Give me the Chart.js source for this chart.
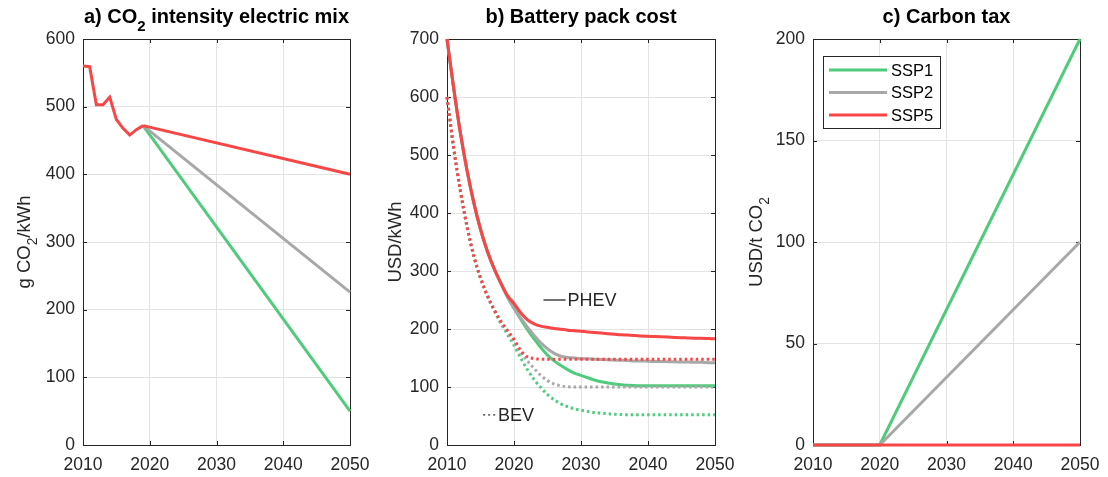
<!DOCTYPE html>
<html>
<head>
<meta charset="utf-8">
<script src="https://cdn.jsdelivr.net/npm/chart.js@4.4.1/dist/chart.umd.min.js"></script>
<style>
  html, body { margin: 0; padding: 0; background: #fff; }
  #wrap { position: relative; width: 1108px; height: 477px; overflow: hidden; }
  #wrap canvas { position: absolute; top: 0; }
</style>
</head>
<body>
<div id="wrap">
  <canvas id="chartA" width="370" height="477" style="left:0px;width:370px;height:477px"></canvas>
  <canvas id="chartB" width="370" height="477" style="left:370px;width:370px;height:477px"></canvas>
  <canvas id="chartC" width="368" height="477" style="left:740px;width:368px;height:477px"></canvas>
</div>
<script>
// ---- data ----------------------------------------------------------------
const scenarios = ['SSP1', 'SSP2', 'SSP5'];
const xTicks = [2010, 2020, 2030, 2040, 2050];

// a) CO2 intensity of electricity mix (g CO2/kWh)
const histYears = [2010, 2011, 2012, 2013, 2014, 2015, 2016, 2017, 2018, 2019];
const histIntensity = [560, 559, 503, 503, 514, 481, 468, 458, 466, 472];
const projYears = [2019, 2050];
const intensitySSP1 = [472, 50];
const intensitySSP2 = [472, 226];
const intensitySSP5 = [472, 400];
const yTicksA = [0, 100, 200, 300, 400, 500, 600];

// b) Battery pack cost (USD/kWh)
const costYears = [2010, 2011, 2012, 2013, 2014, 2015, 2016, 2017, 2018, 2019,
                   2020, 2021, 2022, 2023, 2024, 2025, 2026, 2027, 2028, 2029,
                   2030, 2031, 2032, 2033, 2034, 2035, 2036, 2037, 2038, 2039,
                   2040, 2041, 2042, 2043, 2044, 2045, 2046, 2047, 2048, 2049, 2050];
const phevSSP1 = [700, 615, 538, 473, 418, 372, 335, 305, 280, 256,
                  236, 217, 199, 183, 168, 155, 145, 137, 130, 124,
                  120, 116, 112, 109, 107, 105, 104, 103, 102.5, 102,
                  102, 102, 102, 102, 102, 102, 102, 102, 102, 102, 102];
const phevSSP2 = [700, 615, 538, 473, 418, 372, 335, 305, 280, 256,
                  236, 219, 203, 189, 176, 166, 158, 153, 151, 150,
                  149, 148.5, 148, 147.5, 147, 146.5, 146, 145.5, 145, 145,
                  144.5, 144, 144, 143.5, 143.5, 143, 143, 142.5, 142.5, 142, 142];
const phevSSP5 = [700, 615, 538, 473, 418, 372, 335, 305, 280, 258,
                  244, 228, 216, 209, 205, 203, 201, 199.5, 198, 197,
                  196, 195, 194, 193, 192, 191, 190, 189.5, 189, 188,
                  187.5, 187, 186.5, 186, 185.5, 185, 184.5, 184, 184, 183.5, 183];
const bevSSP1 = [600, 512, 438, 376, 326, 288, 258, 233, 210, 191,
                 172, 150, 130, 113, 99, 87, 78, 71, 66, 62.5,
                 60, 58, 56, 55, 54, 53, 52.5, 52, 52, 52,
                 52, 52, 52, 52, 52, 52, 52, 52, 52, 52, 52];
const bevSSP2 = [600, 512, 438, 376, 326, 288, 258, 234, 212, 195,
                 178, 160, 145, 132, 120, 111, 105, 102, 100.5, 100,
                 100, 100, 100, 100, 100, 100, 100, 100, 100, 100,
                 100, 100, 100, 100, 100, 100, 100, 100, 100, 100, 100];
const bevSSP5 = [600, 512, 438, 376, 326, 288, 258, 234, 214, 198,
                 182, 163, 152, 149, 148, 148, 148, 148, 148, 148,
                 148, 148, 148, 148, 148, 148, 148, 148, 148, 148,
                 148, 148, 148, 148, 148, 148, 148, 148, 148, 148, 148];
const yTicksB = [0, 100, 200, 300, 400, 500, 600, 700];

// c) Carbon tax (USD/t CO2)
const taxYears = [2010, 2020, 2050];
const taxSSP1 = [0, 0, 200];
const taxSSP2 = [0, 0, 100];
const taxSSP5 = [0, 0, 0];
const yTicksC = [0, 50, 100, 150, 200];

// ---- style ---------------------------------------------------------------
const FONT = "'Liberation Sans', Arial, Helvetica, sans-serif";
const INK = '#262626';
const COLORS = { SSP1: '#4fcb7b', SSP2: '#a8a8a8', SSP5: '#f64646' };
const GRID = '#e3e3e3';

const pts = (xs, ys) => xs.map((x, i) => ({ x: x, y: ys[i] }));

// writes a run of text pieces, some of them subscripts
function richWidth(ctx, parts, size) {
  let w = 0;
  parts.forEach(p => {
    ctx.font = p.bold + ' ' + (p.sub ? size * 0.75 : size) + 'px ' + FONT;
    w += ctx.measureText(p.t).width;
  });
  return w;
}
function drawRich(ctx, parts, x, y, size) {
  let cx = x;
  parts.forEach(p => {
    ctx.font = p.bold + ' ' + (p.sub ? size * 0.75 : size) + 'px ' + FONT;
    ctx.fillText(p.t, cx, p.sub ? y + size * 0.38 : y);
    cx += ctx.measureText(p.t).width;
  });
}

// axes frame with inward tick marks, drawn under the data
const framePlugin = {
  id: 'frame',
  beforeDatasetsDraw(chart) {
    const { ctx, chartArea: a, scales } = chart;
    ctx.save();
    ctx.strokeStyle = INK;
    ctx.lineWidth = 1;
    ctx.strokeRect(a.left + 0.5, a.top + 0.5, a.right - a.left, a.bottom - a.top);
    const len = 4;
    ctx.beginPath();
    scales.x.ticks.forEach(t => {
      const px = Math.round(scales.x.getPixelForValue(t.value)) + 0.5;
      ctx.moveTo(px, a.bottom); ctx.lineTo(px, a.bottom - len);
      ctx.moveTo(px, a.top); ctx.lineTo(px, a.top + len);
    });
    scales.y.ticks.forEach(t => {
      const py = Math.round(scales.y.getPixelForValue(t.value)) + 0.5;
      ctx.moveTo(a.left, py); ctx.lineTo(a.left + len, py);
      ctx.moveTo(a.right, py); ctx.lineTo(a.right - len, py);
    });
    ctx.stroke();
    ctx.restore();
  }
};

// panel title and y-axis label (both can carry a subscript)
const labelsPlugin = {
  id: 'labels',
  afterDraw(chart, args, opts) {
    const { ctx, chartArea: a } = chart;
    ctx.save();
    ctx.fillStyle = '#000';
    ctx.textBaseline = 'alphabetic';
    ctx.textAlign = 'left';
    const tParts = opts.title.map(p => ({ t: p.t, sub: p.sub, bold: 'bold' }));
    const tw = richWidth(ctx, tParts, 20);
    drawRich(ctx, tParts, (a.left + a.right) / 2 - tw / 2, 23, 20);

    ctx.fillStyle = INK;
    const yParts = opts.yLabel.map(p => ({ t: p.t, sub: p.sub, bold: 'normal' }));
    const yw = richWidth(ctx, yParts, 18.5);
    ctx.translate(a.left - opts.yLabelGap, (a.top + a.bottom) / 2);
    ctx.rotate(-Math.PI / 2);
    drawRich(ctx, yParts, -yw / 2, 0, 18.5);
    ctx.restore();
  }
};

// in-plot notes for panel b: line style keys
const notesPlugin = {
  id: 'notes',
  afterDatasetsDraw(chart, args, opts) {
    if (!opts.items) return;
    const { ctx, scales } = chart;
    ctx.save();
    opts.items.forEach(n => {
      const x0 = scales.x.getPixelForValue(n.x0);
      const x1 = scales.x.getPixelForValue(n.x1);
      const y = scales.y.getPixelForValue(n.y);
      ctx.strokeStyle = INK;
      ctx.lineWidth = 1.3;
      ctx.setLineDash(n.dash);
      ctx.beginPath(); ctx.moveTo(x0, y); ctx.lineTo(x1, y); ctx.stroke();
      ctx.setLineDash([]);
      ctx.fillStyle = INK;
      ctx.font = '18px ' + FONT;
      ctx.textBaseline = 'middle';
      ctx.fillText(n.text, x1 + 2, y + 1);
    });
    ctx.restore();
  }
};

// boxed legend in the upper left of panel c
const boxLegendPlugin = {
  id: 'boxLegend',
  afterDatasetsDraw(chart, args, opts) {
    if (!opts.show) return;
    const { ctx, chartArea: a } = chart;
    const left = a.left + 10, top = a.top + 17, w = 117, h = 72;
    ctx.save();
    ctx.fillStyle = '#fff';
    ctx.fillRect(left, top, w, h);
    ctx.strokeStyle = INK;
    ctx.lineWidth = 1;
    ctx.strokeRect(left + 0.5, top + 0.5, w, h);
    const rows = chart.data.datasets.filter(d => d.label).sort((p, q) => p.label < q.label ? -1 : 1);
    rows.forEach((d, i) => {
      const y = top + 14 + i * 22.5;
      ctx.strokeStyle = d.borderColor;
      ctx.lineWidth = 3;
      ctx.beginPath(); ctx.moveTo(left + 6, y); ctx.lineTo(left + 64, y); ctx.stroke();
      ctx.fillStyle = '#000';
      ctx.font = '16.5px ' + FONT;
      ctx.textBaseline = 'middle';
      ctx.fillText(d.label, left + 68, y + 1);
    });
    ctx.restore();
  }
};

function line(data, color, opts) {
  return Object.assign({
    data: data,
    borderColor: color,
    backgroundColor: color,
    borderWidth: 3,
    pointRadius: 0,
    fill: false,
    tension: 0,
    clip: false
  }, opts || {});
}

// smooth cost curves
const curve = (data, color, dashed) => line(data, color, {
  cubicInterpolationMode: 'monotone',
  borderDash: dashed ? [2.5, 3] : []
});

function makePanel(id, cfg) {
  const tickFont = { family: FONT, size: 17.5 };
  return new Chart(document.getElementById(id), {
    type: 'line',
    data: { datasets: cfg.datasets },
    options: {
      responsive: false,
      animation: false,
      events: [],
      layout: { padding: { top: 39, right: cfg.padRight, left: 0, bottom: 0 } },
      scales: {
        x: {
          type: 'linear', min: 2010, max: 2050,
          afterBuildTicks: s => { s.ticks = xTicks.map(v => ({ value: v })); },
          afterFit: s => { s.height = 32; s.paddingLeft = 0; s.paddingRight = 0; },
          grid: { color: GRID, drawTicks: false },
          border: { display: false },
          ticks: { color: INK, font: tickFont, padding: 10, maxRotation: 0, callback: v => String(v) }
        },
        y: {
          type: 'linear', min: cfg.yTicks[0], max: cfg.yTicks[cfg.yTicks.length - 1],
          afterBuildTicks: s => { s.ticks = cfg.yTicks.map(v => ({ value: v })); },
          afterFit: s => { s.width = cfg.yWidth; s.paddingTop = 0; s.paddingBottom = 0; },
          grid: { color: GRID, drawTicks: false },
          border: { display: false },
          ticks: { color: INK, font: tickFont, padding: 8, callback: v => String(v) }
        }
      },
      plugins: {
        legend: { display: false },
        tooltip: { enabled: false },
        labels: { title: cfg.title, yLabel: cfg.yLabel, yLabelGap: cfg.yLabelGap },
        notes: { items: cfg.notes },
        boxLegend: { show: !!cfg.legend }
      }
    },
    plugins: [framePlugin, labelsPlugin, notesPlugin, boxLegendPlugin]
  });
}

// ---- panels --------------------------------------------------------------
makePanel('chartA', {
  yTicks: yTicksA, yWidth: 83, padRight: 20, yLabelGap: 53,
  title: [{ t: 'a) CO' }, { t: '2', sub: true }, { t: ' intensity electric mix' }],
  yLabel: [{ t: 'g CO' }, { t: '2', sub: true }, { t: '/kWh' }],
  datasets: [
    line(pts(histYears, histIntensity), COLORS.SSP5),
    line(pts(projYears, intensitySSP5), COLORS.SSP5),
    line(pts(projYears, intensitySSP2), COLORS.SSP2),
    line(pts(projYears, intensitySSP1), COLORS.SSP1)
  ]
});

makePanel('chartB', {
  yTicks: yTicksB, yWidth: 77, padRight: 25, yLabelGap: 46,
  title: [{ t: 'b) Battery pack cost' }],
  yLabel: [{ t: 'USD/kWh' }],
  notes: [
    { x0: 2024.4, x1: 2027.7, y: 250, dash: [], text: 'PHEV' },
    { x0: 2015.4, x1: 2017.3, y: 52, dash: [2, 3], text: 'BEV' }
  ],
  datasets: [
    curve(pts(costYears, phevSSP5), COLORS.SSP5),
    curve(pts(costYears, bevSSP5), COLORS.SSP5, true),
    curve(pts(costYears, phevSSP2), COLORS.SSP2),
    curve(pts(costYears, bevSSP2), COLORS.SSP2, true),
    curve(pts(costYears, phevSSP1), COLORS.SSP1),
    curve(pts(costYears, bevSSP1), COLORS.SSP1, true)
  ]
});

makePanel('chartC', {
  yTicks: yTicksC, yWidth: 73, padRight: 28, yLabelGap: 51, legend: true,
  title: [{ t: 'c) Carbon tax' }],
  yLabel: [{ t: 'USD/t CO' }, { t: '2', sub: true }],
  datasets: [
    line(pts(taxYears, taxSSP5), COLORS.SSP5, { label: scenarios[2] }),
    line(pts(taxYears, taxSSP2), COLORS.SSP2, { label: scenarios[1] }),
    line(pts(taxYears, taxSSP1), COLORS.SSP1, { label: scenarios[0] })
  ]
});
</script>
</body>
</html>
